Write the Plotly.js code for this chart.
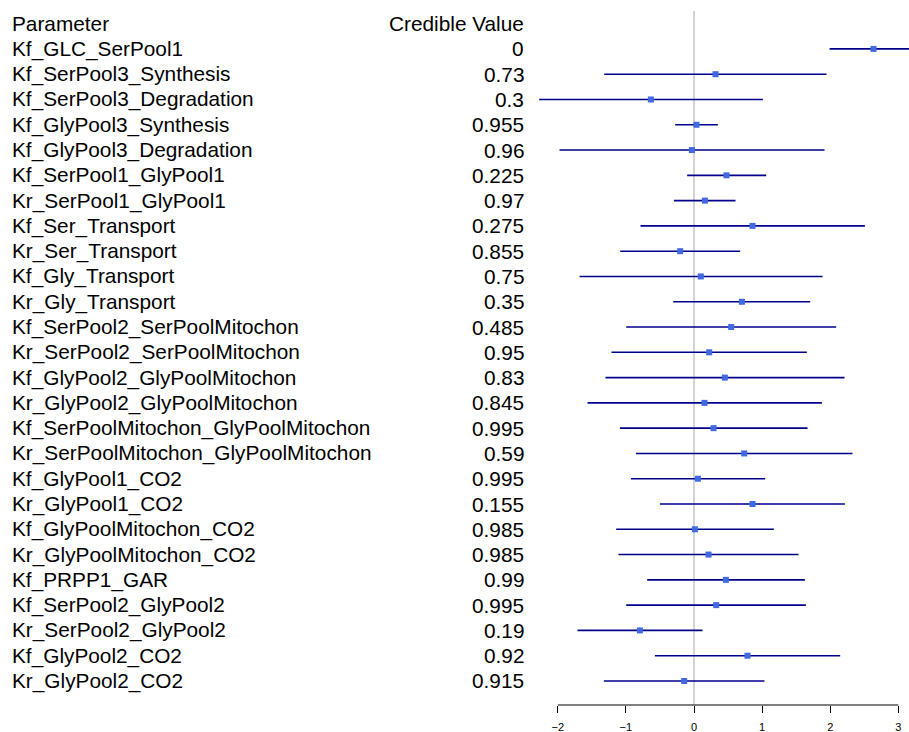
<!DOCTYPE html>
<html>
<head>
<meta charset="utf-8">
<script src="https://cdn.plot.ly/plotly-3.0.1.min.js"></script>
<style>html,body{margin:0;padding:0;background:#fff;}#chart{width:909px;height:732px;}</style>
</head>
<body>
<div id="chart"></div>
<script>
const parameters = [
  "Kf_GLC_SerPool1","Kf_SerPool3_Synthesis","Kf_SerPool3_Degradation","Kf_GlyPool3_Synthesis",
  "Kf_GlyPool3_Degradation","Kf_SerPool1_GlyPool1","Kr_SerPool1_GlyPool1","Kf_Ser_Transport",
  "Kr_Ser_Transport","Kf_Gly_Transport","Kr_Gly_Transport","Kf_SerPool2_SerPoolMitochon",
  "Kr_SerPool2_SerPoolMitochon","Kf_GlyPool2_GlyPoolMitochon","Kr_GlyPool2_GlyPoolMitochon",
  "Kf_SerPoolMitochon_GlyPoolMitochon","Kr_SerPoolMitochon_GlyPoolMitochon","Kf_GlyPool1_CO2",
  "Kr_GlyPool1_CO2","Kf_GlyPoolMitochon_CO2","Kr_GlyPoolMitochon_CO2","Kf_PRPP1_GAR",
  "Kf_SerPool2_GlyPool2","Kr_SerPool2_GlyPool2","Kf_GlyPool2_CO2","Kr_GlyPool2_CO2"
];
const credibleValues = ["0","0.73","0.3","0.955","0.96","0.225","0.97","0.275","0.855","0.75","0.35",
  "0.485","0.95","0.83","0.845","0.995","0.59","0.995","0.155","0.985","0.985","0.99","0.995","0.19","0.92","0.915"];
const estimates = [2.635,0.316,-0.633,0.037,-0.031,0.477,0.16,0.859,-0.203,0.1,0.703,0.546,0.223,0.453,
  0.154,0.287,0.737,0.057,0.859,0.013,0.213,0.468,0.326,-0.794,0.785,-0.144];
const lowerBounds = [1.99,-1.318,-2.272,-0.276,-1.974,-0.1,-0.295,-0.785,-1.083,-1.68,-0.305,-0.995,-1.211,
  -1.299,-1.563,-1.088,-0.853,-0.926,-0.501,-1.142,-1.108,-0.687,-0.995,-1.71,-0.574,-1.323];
const upperBounds = [3.3,1.945,1.011,0.35,1.916,1.06,0.61,2.509,0.678,1.887,1.706,2.087,1.657,2.21,1.877,
  1.667,2.327,1.045,2.215,1.172,1.535,1.628,1.642,0.125,2.146,1.035];
const tickValues = [-2,-1,0,1,2,3];
const headerLabels = ["Parameter","Credible Value"];

const rows = parameters.map((_, i) => i + 1);
const FONT = "Liberation Sans, Arial, Helvetica, sans-serif";
const TXT = 20.8;

const L = 530, W = 909, H = 732;
const plotW = W - L;
const px = p => (p - L) / plotW;  // pixel -> paper x

const trace = {
  type: "scatter", mode: "markers",
  x: estimates, y: rows,
  marker: {symbol: "square", size: 6, color: "#4169E1"},
  error_x: {
    type: "data", symmetric: false,
    array: estimates.map((e, i) => upperBounds[i] - e),
    arrayminus: estimates.map((e, i) => e - lowerBounds[i]),
    color: "#00008B", thickness: 1.6, width: 0
  },
  hoverinfo: "skip", showlegend: false, cliponaxis: true
};

const annotations = [];
const addRow = (y, left, right) => {
  annotations.push({xref: "paper", yref: "y", x: px(10), y: y, text: left, showarrow: false,
    xanchor: "left", yanchor: "middle", font: {family: FONT, size: TXT, color: "#000"}});
  annotations.push({xref: "paper", yref: "y", x: px(526), y: y, text: right, showarrow: false,
    xanchor: "right", yanchor: "middle", font: {family: FONT, size: TXT, color: "#000"}});
};
addRow(0, headerLabels[0], headerLabels[1]);
parameters.forEach((p, i) => addRow(rows[i], p, credibleValues[i]));

const x0 = (L - 694) / 68.12, x1 = (W - 694) / 68.12;

const layout = {
  width: W, height: H,
  margin: {l: L, r: 0, t: 11, b: 27, pad: 0},
  paper_bgcolor: "#fff", plot_bgcolor: "#fff",
  font: {family: FONT, color: "#000"},
  xaxis: {
    range: [x0, x1], showgrid: false, zeroline: true, zerolinecolor: "#d3d3d3", zerolinewidth: 1.5,
    showline: false, tickmode: "array", tickvals: tickValues, ticks: "outside", ticklen: 7,
    tickwidth: 1, tickcolor: "#000", tickfont: {family: FONT, size: 11, color: "#000"},
    ticklabelstandoff: 5
  },
  yaxis: {range: [26.95, -0.5], visible: false, showgrid: false, zeroline: false},
  shapes: [{type: "line", xref: "x", yref: "paper", x0: tickValues[0], x1: tickValues[tickValues.length - 1],
    y0: 0, y1: 0, line: {color: "#000", width: 1}}],
  annotations: annotations
};

Plotly.newPlot("chart", [trace], layout, {displayModeBar: false, staticPlot: true});
</script>
</body>
</html>
